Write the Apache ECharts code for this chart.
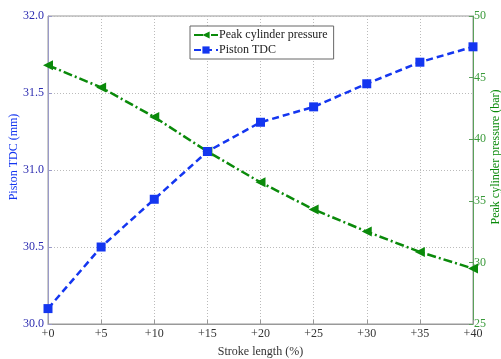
<!DOCTYPE html>
<html>
<head>
<meta charset="utf-8">
<script src="https://cdn.jsdelivr.net/npm/echarts@6/dist/echarts.min.js"></script>
<style>
  html, body { margin: 0; padding: 0; background: #fff; }
  #chart { width: 501px; height: 359px; }
</style>
</head>
<body>
<div id="chart"></div>
<script>
// stroke length (%) and the two measured series
var strokeLength = [0, 5, 10, 15, 20, 25, 30, 35, 40];
var pistonTdc = [30.10, 30.50, 30.81, 31.12, 31.31, 31.41, 31.56, 31.70, 31.80];
var peakPressure = [46.0, 44.2, 41.8, 39.0, 36.5, 34.3, 32.5, 30.85, 29.5];

var blue = '#1436f0';
var green = '#0a8a0a';
var font = '"Liberation Serif", "DejaVu Serif", serif';

function pairs(xs, ys) {
    var out = [];
    for (var i = 0; i < xs.length; i++) {
        out.push([xs[i], ys[i]]);
    }
    return out;
}

var myChart = echarts.init(document.getElementById('chart'), null, { renderer: 'canvas' });
myChart.setOption({
    animation: false,
    textStyle: { fontFamily: font },
    grid: {
        left: 48, right: 28, top: 16, bottom: 35,
        outerBoundsMode: 'none', containLabel: false,
        show: true, borderColor: '#999', borderWidth: 1
    },
    legend: {
        left: 190,
        top: 26,
        orient: 'vertical',
        itemGap: 3,
        itemWidth: 24,
        itemHeight: 9,
        padding: [3, 6, 3, 3],
        borderColor: '#666',
        borderWidth: 1,
        backgroundColor: '#fff',
        textStyle: { fontFamily: font, fontSize: 12, color: '#222', padding: [0, 0, 0, -4] },
        data: ['Peak cylinder pressure', 'Piston TDC']
    },
    xAxis: {
        type: 'value',
        min: 0,
        max: 40,
        interval: 5,
        name: 'Stroke length (%)',
        nameLocation: 'middle',
        nameGap: 22,
        nameMoveOverlap: false,
        nameTextStyle: { fontFamily: font, fontSize: 12, color: '#333' },
        axisLine: { lineStyle: { color: '#999' } },
        axisTick: { inside: true, length: 4, lineStyle: { color: '#999' } },
        axisLabel: {
            fontFamily: font, fontSize: 12, color: '#333', margin: 4,
            formatter: function (v) { return '+' + v; }
        },
        splitLine: { show: true, lineStyle: { color: '#bbb', type: [1, 2] } }
    },
    yAxis: [
        {
            type: 'value',
            min: 30,
            max: 32,
            interval: 0.5,
            name: 'Piston TDC (mm)',
            nameLocation: 'middle',
            nameGap: 28,
            nameMoveOverlap: false,
            nameTextStyle: { fontFamily: font, fontSize: 12, color: blue, padding: [0, 0, 0, 26] },
            axisLine: { show: true, lineStyle: { color: '#9a9ac8' } },
            axisTick: { show: true, inside: true, length: 4, lineStyle: { color: '#9a9ac8' } },
            axisLabel: {
                fontFamily: font, fontSize: 12, color: '#2b2bb0', margin: 4,
                formatter: function (v) { return v.toFixed(1); }
            },
            splitLine: { show: true, lineStyle: { color: '#bbb', type: [1, 2] } }
        },
        {
            type: 'value',
            min: 25,
            max: 50,
            interval: 5,
            name: 'Peak cylinder pressure (bar)',
            nameLocation: 'middle',
            nameGap: 17,
            nameMoveOverlap: false,
            nameRotate: 90,
            nameTextStyle: { fontFamily: font, fontSize: 12, color: green, padding: [0, 0, 0, 26] },
            axisLine: { show: true, lineStyle: { color: '#5aa05a' } },
            axisTick: { show: true, inside: true, length: 4, lineStyle: { color: '#5aa05a' } },
            axisLabel: { fontFamily: font, fontSize: 12, color: '#3a9a3a', margin: 1 },
            splitLine: { show: false }
        }
    ],
    series: [
        {
            name: 'Peak cylinder pressure',
            type: 'line',
            yAxisIndex: 1,
            data: pairs(strokeLength, peakPressure),
            symbol: 'triangle',
            symbolRotate: 90,
            symbolSize: 10,
            itemStyle: { color: green },
            lineStyle: { color: green, width: 2.5, type: [9, 3, 2, 3] },
            z: 3
        },
        {
            name: 'Piston TDC',
            type: 'line',
            yAxisIndex: 0,
            data: pairs(strokeLength, pistonTdc),
            symbol: 'rect',
            symbolSize: 9,
            itemStyle: { color: blue },
            lineStyle: { color: blue, width: 2.5, type: [7, 4] },
            z: 4
        }
    ]
});
</script>
</body>
</html>
